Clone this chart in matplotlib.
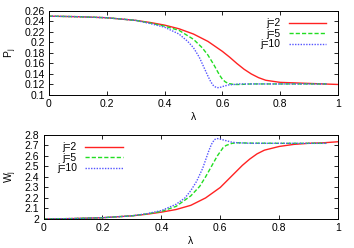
import numpy as np
import matplotlib
matplotlib.use('Agg')
import matplotlib.pyplot as plt
from matplotlib.ticker import FuncFormatter

# values
lam_red = [0, 0.1, 0.2, 0.3, 0.35, 0.4, 0.45, 0.5, 0.55, 0.6, 0.625, 0.65, 0.675, 0.7, 0.725, 0.75, 0.8, 0.85, 0.9, 0.95, 1.0]
p_red = [0.25, 0.249, 0.247, 0.242, 0.238, 0.233, 0.226, 0.216, 0.202, 0.183, 0.172, 0.160, 0.149, 0.140, 0.133, 0.128, 0.124, 0.123, 0.122, 0.121, 0.120]
w_red = [2.0, 2.004, 2.012, 2.03, 2.045, 2.065, 2.09, 2.13, 2.2, 2.3, 2.37, 2.44, 2.51, 2.57, 2.62, 2.655, 2.69, 2.71, 2.72, 2.725, 2.735]

lam_grn = [0, 0.1, 0.2, 0.3, 0.35, 0.4, 0.45, 0.5, 0.53, 0.55, 0.57, 0.59, 0.6, 0.61, 0.62, 0.64, 0.66, 0.7, 0.8, 0.9, 0.96]
p_grn = [0.25, 0.249, 0.247, 0.242, 0.237, 0.231, 0.223, 0.206, 0.190, 0.176, 0.158, 0.138, 0.130, 0.125, 0.122, 0.120, 0.120, 0.121, 0.121, 0.121, 0.121]
w_grn = [2.0, 2.004, 2.012, 2.03, 2.048, 2.072, 2.12, 2.22, 2.31, 2.4, 2.5, 2.6, 2.64, 2.68, 2.7, 2.72, 2.725, 2.722, 2.72, 2.72, 2.72]

lam_blu = [0, 0.1, 0.2, 0.3, 0.35, 0.4, 0.45, 0.48, 0.5, 0.52, 0.54, 0.55, 0.56, 0.57, 0.58, 0.59, 0.6, 0.62, 0.64, 0.66, 0.7, 0.8, 0.9, 0.96]
p_blu = [0.25, 0.249, 0.247, 0.242, 0.236, 0.229, 0.216, 0.202, 0.190, 0.172, 0.148, 0.136, 0.125, 0.117, 0.114, 0.114, 0.116, 0.119, 0.120, 0.121, 0.121, 0.121, 0.121, 0.121]
w_blu = [2.0, 2.004, 2.012, 2.03, 2.05, 2.08, 2.14, 2.2, 2.27, 2.36, 2.48, 2.56, 2.64, 2.71, 2.755, 2.765, 2.76, 2.745, 2.73, 2.725, 2.72, 2.72, 2.72, 2.72]

labels = ['j=2', 'j=5', 'j=10']
colors = ['#ff2222', '#22dd22', '#5555ff']
styles = ['-', (0, (3, 1.5)), (0, (1, 1))]

plt.rcParams['font.family'] = ['Liberation Sans', 'DejaVu Sans']
plt.rcParams['font.size'] = 7.5

fig = plt.figure(figsize=(3.54, 2.48), dpi=100)
fmt = FuncFormatter(lambda v, p: '%g' % round(v, 4))


def style_axes(ax):
    ax.tick_params(direction='in', top=True, right=True, length=3, width=0.6, labelsize=7.5, pad=3)
    for s in ax.spines.values():
        s.set_linewidth(0.7)
    ax.set_xlim(0, 1)
    ax.set_xticks(np.arange(0, 1.01, 0.2))
    ax.xaxis.set_major_formatter(fmt)
    ax.yaxis.set_major_formatter(fmt)
    ax.set_xlabel('λ', labelpad=2)


ax1 = fig.add_axes([0.138, 0.617, 0.817, 0.339])
for lam, y, lab, c, ls in zip([lam_red, lam_grn, lam_blu], [p_red, p_grn, p_blu], labels, colors, styles):
    ax1.plot(lam, y, color=c, linestyle=ls, lw=1.0, label=lab)
ax1.set_ylim(0.1, 0.26)
ax1.set_yticks(np.arange(0.1, 0.2601, 0.02))
style_axes(ax1)
ax1.set_ylabel('P$_\\mathregular{j}$', labelpad=4)
ax1.legend(loc='upper right', frameon=False, markerfirst=False, handlelength=3.6,
           handletextpad=0.8, labelspacing=0.05, fontsize=7.5, borderaxespad=0.3,
           bbox_to_anchor=(0.985, 1.0))

ax2 = fig.add_axes([0.123, 0.117, 0.832, 0.339])
for lam, y, lab, c, ls in zip([lam_red, lam_grn, lam_blu], [w_red, w_grn, w_blu], labels, colors, styles):
    ax2.plot(lam, y, color=c, linestyle=ls, lw=1.0, label=lab)
ax2.set_ylim(2.0, 2.8)
ax2.set_yticks(np.arange(2.0, 2.801, 0.1))
style_axes(ax2)
ax2.set_ylabel('W$_\\mathregular{j}$', labelpad=4)
ax2.legend(loc='upper left', bbox_to_anchor=(0.02, 1.0), frameon=False, markerfirst=False,
           handlelength=3.6, handletextpad=0.8, labelspacing=0.05, fontsize=7.5, borderaxespad=0.3)

fig.savefig('out.png', dpi=100)
